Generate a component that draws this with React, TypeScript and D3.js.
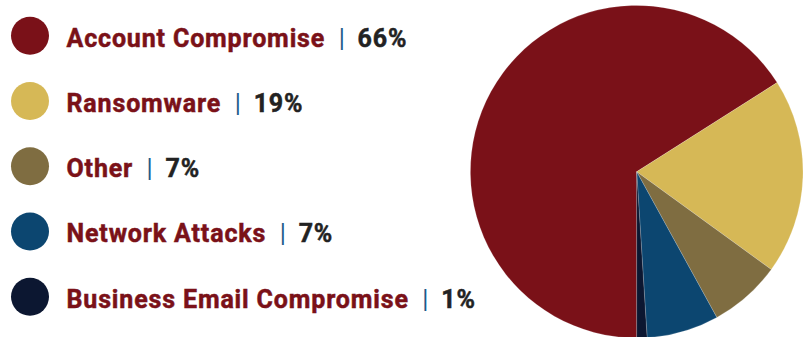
import React from "react";
import * as d3 from "d3";

const categories = ["Account Compromise", "Ransomware", "Other", "Network Attacks", "Business Email Compromise"];
const values = [66, 19, 7, 7, 1];
const labels = ["66%", "19%", "7%", "7%", "1%"];
const colors = ["#7a1118", "#d6b856", "#7f6d41", "#0c4670", "#0c1731"];

const W = 808;
const H = 337;

export default function App() {
  const cx = 636.7;
  const cy = 171.7;
  const r = 166.3;
  const pie = d3
    .pie<number>()
    .sort(null)
    .startAngle(Math.PI)
    .endAngle(Math.PI * 3)
    .value((d) => d);
  const arcs = pie(values);
  const arc = d3.arc<d3.PieArcDatum<number>>().innerRadius(0).outerRadius(r);
  const rowY = d3.scaleLinear().domain([0, categories.length - 1]).range([35.7, 296.7]);

  return (
    <svg
      width={W}
      height={H}
      style={{ position: "absolute", left: 0, top: 0, background: "#fff" }}
      fontFamily="Roboto, sans-serif"
    >
      <g transform={`translate(${cx},${cy})`}>
        {arcs.map((a, i) => (
          <path key={i} d={arc(a) || ""} fill={colors[i]} stroke="#ffffff" strokeOpacity={0.35} strokeWidth={0.5} />
        ))}
      </g>
      {categories.map((c, i) => {
        const y = rowY(i);
        return (
          <g key={c}>
            <circle cx={30} cy={y} r={19} fill={colors[i]} />
            <text x={66.5} y={y + 11} fontSize={25} fontWeight={700} letterSpacing={0.85}>
              <tspan fill="#7a1118" stroke="#7a1118" strokeWidth={0.5}>{c}</tspan>
              <tspan dx={13.5} fill="#1d5a8a" fontWeight={400}>|</tspan>
              <tspan dx={12} fill="#222222" stroke="#222222" strokeWidth={0.5}>{labels[i]}</tspan>
            </text>
          </g>
        );
      })}
    </svg>
  );
}
